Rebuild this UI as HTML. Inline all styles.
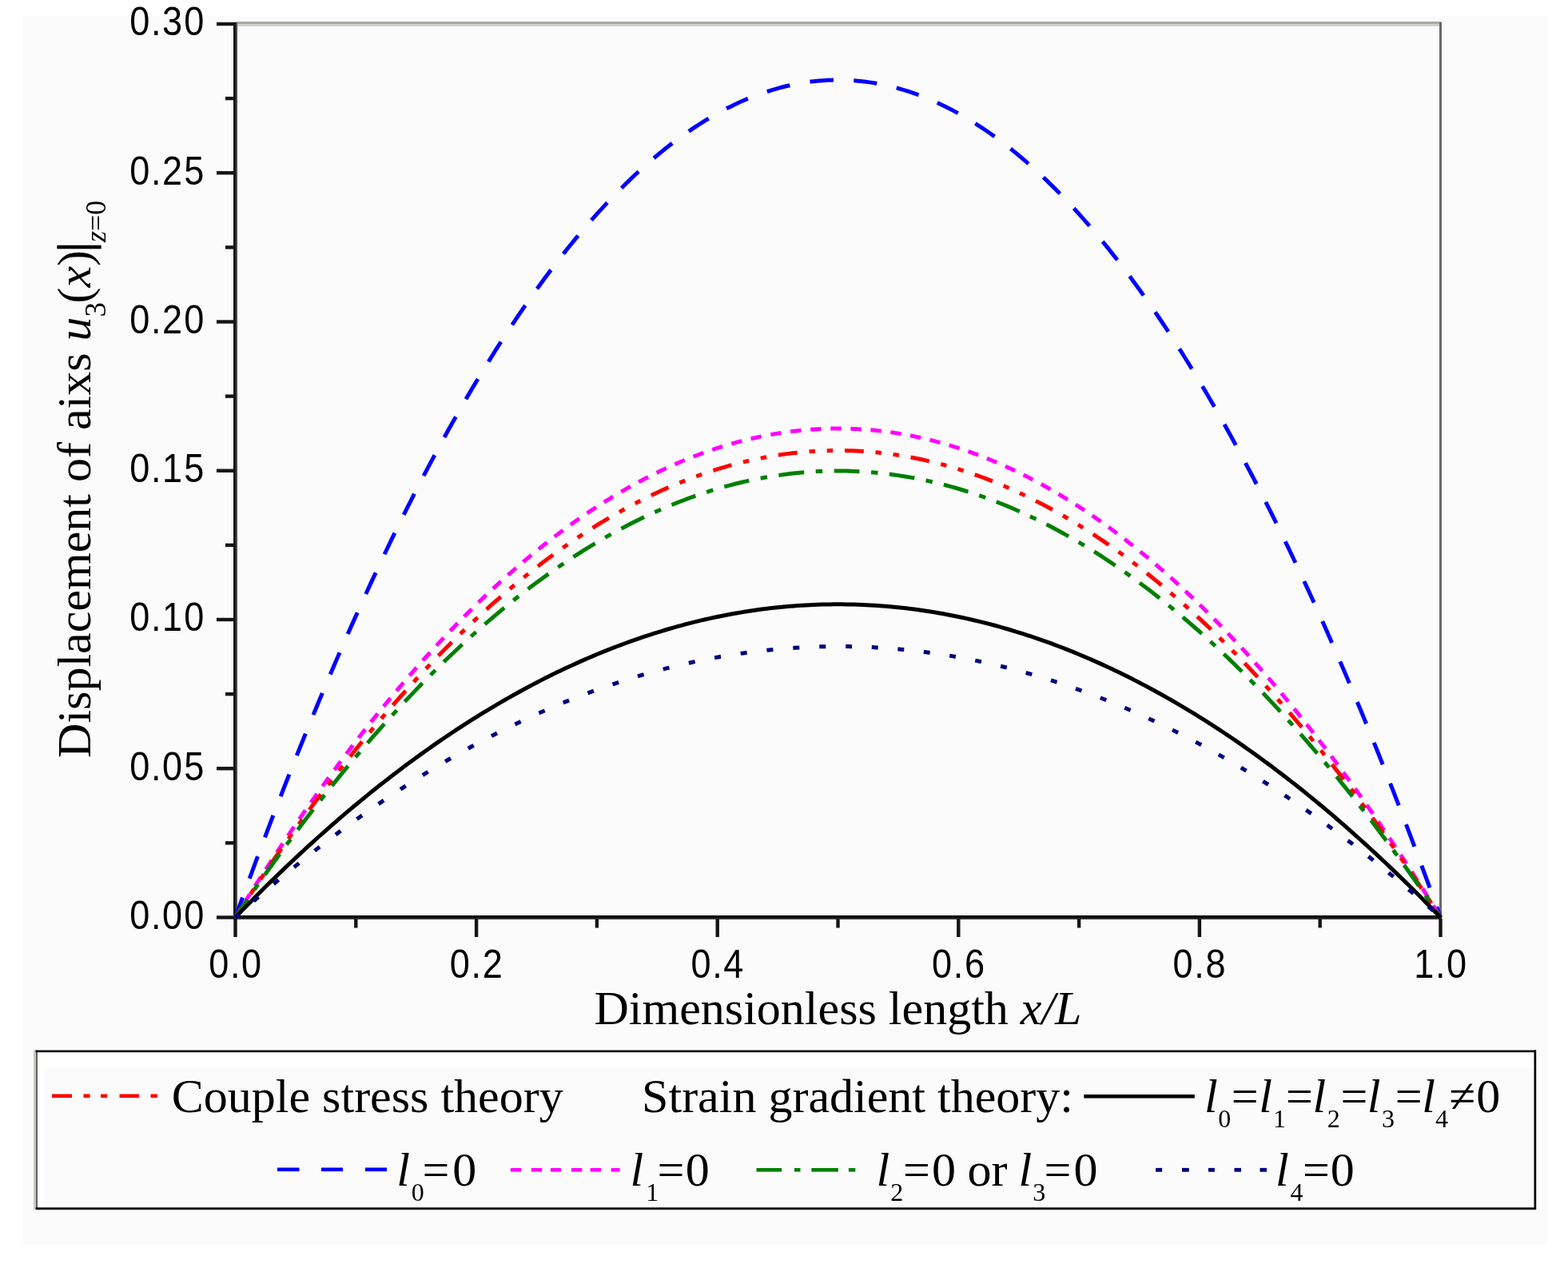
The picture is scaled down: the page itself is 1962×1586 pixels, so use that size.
<!DOCTYPE html>
<html><head><meta charset="utf-8"><title>Displacement of axis vs dimensionless length</title>
<style>
html,body{margin:0;padding:0;background:#fff;}
body{width:1962px;height:1586px;overflow:hidden;}
svg{display:block;}
</style></head>
<body>
<svg width="1962" height="1586" viewBox="0 0 1962 1586">
<rect x="0" y="0" width="1962" height="1586" fill="#ffffff"/>
<rect x="28" y="20" width="1908" height="1537" fill="#fbfbfb"/>
<rect x="47" y="1316" width="1873" height="20" fill="#ffffff"/>
<rect x="47" y="1316" width="7" height="194" fill="#ffffff"/>
<rect x="294" y="27" width="1510" height="3" fill="#a9a99c"/>
<rect x="294" y="30" width="1510" height="3" fill="#d0d2d2"/>
<rect x="1801" y="28" width="3" height="1120" fill="#686868"/>
<rect x="292" y="28" width="3" height="1122" fill="#141414"/>
<rect x="295" y="28" width="2" height="1122" fill="#4a4a4a"/>
<rect x="292" y="1145" width="1512" height="3" fill="#000"/>
<rect x="292" y="1148" width="1512" height="2" fill="#303030"/>
<rect x="271" y="1145.30" width="22" height="4.4" fill="#151515"/>
<rect x="282" y="1052.17" width="11" height="4.4" fill="#151515"/>
<rect x="271" y="959.05" width="22" height="4.4" fill="#151515"/>
<rect x="282" y="865.92" width="11" height="4.4" fill="#151515"/>
<rect x="271" y="772.80" width="22" height="4.4" fill="#151515"/>
<rect x="282" y="679.67" width="11" height="4.4" fill="#151515"/>
<rect x="271" y="586.55" width="22" height="4.4" fill="#151515"/>
<rect x="282" y="493.42" width="11" height="4.4" fill="#151515"/>
<rect x="271" y="400.30" width="22" height="4.4" fill="#151515"/>
<rect x="282" y="307.18" width="11" height="4.4" fill="#151515"/>
<rect x="271" y="214.05" width="22" height="4.4" fill="#151515"/>
<rect x="282" y="120.92" width="11" height="4.4" fill="#151515"/>
<rect x="271" y="27.80" width="22" height="4.4" fill="#151515"/>
<rect x="292.30" y="1149" width="4.4" height="23" fill="#151515"/>
<rect x="443.10" y="1149" width="4.4" height="11.5" fill="#151515"/>
<rect x="593.90" y="1149" width="4.4" height="23" fill="#151515"/>
<rect x="744.70" y="1149" width="4.4" height="11.5" fill="#151515"/>
<rect x="895.50" y="1149" width="4.4" height="23" fill="#151515"/>
<rect x="1046.30" y="1149" width="4.4" height="11.5" fill="#151515"/>
<rect x="1197.10" y="1149" width="4.4" height="23" fill="#151515"/>
<rect x="1347.90" y="1149" width="4.4" height="11.5" fill="#151515"/>
<rect x="1498.70" y="1149" width="4.4" height="23" fill="#151515"/>
<rect x="1649.50" y="1149" width="4.4" height="11.5" fill="#151515"/>
<rect x="1800.30" y="1149" width="4.4" height="23" fill="#151515"/>
<path d="M294.50,1147.50 L299.63,1133.30 L304.75,1119.20 L309.88,1105.20 L315.01,1091.29 L320.14,1077.48 L325.26,1063.77 L330.39,1050.15 L335.52,1036.64 L340.64,1023.21 L345.77,1009.89 L350.90,996.66 L356.03,983.53 L361.15,970.49 L366.28,957.55 L371.41,944.71 L376.54,931.97 L381.66,919.32 L386.79,906.77 L391.92,894.32 L397.04,881.96 L402.17,869.70 L407.30,857.54 L412.43,845.47 L417.55,833.50 L422.68,821.63 L427.81,809.86 L432.93,798.18 L438.06,786.60 L443.19,775.11 L448.32,763.72 L453.44,752.43 L458.57,741.24 L463.70,730.14 L468.82,719.14 L473.95,708.24 L479.08,697.43 L484.21,686.72 L489.33,676.11 L494.46,665.59 L499.59,655.17" fill="none" stroke="#0000ff" stroke-width="5.0" stroke-linejoin="round" stroke-dasharray="29.479 25.452" stroke-dashoffset="3.098"/>
<path d="M499.59,655.17 L504.63,645.02 L509.67,634.97 L514.71,625.01 L519.75,615.14 L524.79,605.37 L529.83,595.69 L534.87,586.10 L539.91,576.61 L544.95,567.21 L549.99,557.90 L555.03,548.69 L560.07,539.57 L565.11,530.55 L570.15,521.62 L575.19,512.78 L580.23,504.03 L585.27,495.38 L590.31,486.83 L595.35,478.36 L600.39,469.99 L605.43,461.72 L610.48,453.54 L615.52,445.45 L620.56,437.45 L625.60,429.55 L630.64,421.74 L635.68,414.03 L640.72,406.41 L645.76,398.88 L650.80,391.45 L655.84,384.11 L660.88,376.86 L665.92,369.71 L670.96,362.65 L676.00,355.68 L681.04,348.81 L686.08,342.03 L691.12,335.35 L696.16,328.76 L701.20,322.26 L706.24,315.86 L711.28,309.55 L716.32,303.33 L721.36,297.21 L726.40,291.18 L731.44,285.24" fill="none" stroke="#0000ff" stroke-width="5.0" stroke-linejoin="round" stroke-dasharray="29.385 25.371" stroke-dashoffset="42.200"/>
<path d="M731.44,285.24 L736.51,279.37 L741.57,273.60 L746.64,267.91 L751.71,262.33 L756.77,256.83 L761.84,251.43 L766.90,246.13 L771.97,240.92 L777.04,235.81 L782.10,230.79 L787.17,225.86 L792.23,221.03 L797.30,216.29 L802.37,211.65 L807.43,207.10 L812.50,202.65 L817.56,198.29 L822.63,194.03 L827.70,189.86 L832.76,185.78 L837.83,181.80 L842.89,177.92 L847.96,174.13 L853.03,170.43 L858.09,166.83 L863.16,163.32 L868.22,159.91 L873.29,156.59 L878.36,153.37 L883.42,150.24 L888.49,147.20 L893.55,144.26 L898.62,141.42 L903.68,138.67 L908.75,136.01 L913.82,133.45 L918.88,130.98 L923.95,128.61 L929.01,126.33 L934.08,124.15 L939.15,122.06 L944.21,120.07 L949.28,118.17 L954.34,116.36 L959.41,114.65 L964.48,113.04 L969.54,111.52 L974.61,110.09 L979.67,108.76 L984.74,107.52 L989.81,106.38 L994.87,105.33 L999.94,104.38 L1005.00,103.52 L1010.07,102.75 L1015.14,102.08 L1020.20,101.51 L1025.27,101.02 L1030.33,100.64 L1035.40,100.35 L1040.47,100.15 L1045.53,100.05 L1050.60,100.04 L1055.66,100.12" fill="none" stroke="#0000ff" stroke-width="5.0" stroke-linejoin="round" stroke-dasharray="29.582 25.541" stroke-dashoffset="42.089"/>
<path d="M1055.66,100.12 L1060.74,100.31 L1065.82,100.58 L1070.90,100.95 L1075.98,101.42 L1081.06,101.98 L1086.14,102.64 L1091.22,103.39 L1096.30,104.24 L1101.38,105.18 L1106.46,106.22 L1111.53,107.35 L1116.61,108.58 L1121.69,109.90 L1126.77,111.32 L1131.85,112.83 L1136.93,114.44 L1142.01,116.14 L1147.09,117.94 L1152.17,119.83 L1157.25,121.82 L1162.33,123.90 L1167.41,126.08 L1172.49,128.35 L1177.56,130.72 L1182.64,133.18 L1187.72,135.74 L1192.80,138.40 L1197.88,141.14 L1202.96,143.99 L1208.04,146.93 L1213.12,149.96 L1218.20,153.09 L1223.28,156.31 L1228.36,159.63 L1233.44,163.04 L1238.51,166.55 L1243.59,170.16 L1248.67,173.86 L1253.75,177.65 L1258.83,181.54 L1263.91,185.52 L1268.99,189.60 L1274.07,193.78 L1279.15,198.05 L1284.23,202.41 L1289.31,206.87 L1294.39,211.43 L1299.47,216.08 L1304.54,220.82 L1309.62,225.66 L1314.70,230.59 L1319.78,235.62 L1324.86,240.75 L1329.94,245.97 L1335.02,251.28" fill="none" stroke="#0000ff" stroke-width="5.0" stroke-linejoin="round" stroke-dasharray="29.149 25.167" stroke-dashoffset="41.650"/>
<path d="M1335.02,251.28 L1340.12,256.72 L1345.22,262.25 L1350.32,267.87 L1355.42,273.59 L1360.52,279.41 L1365.63,285.32 L1370.73,291.33 L1375.83,297.44 L1380.93,303.64 L1386.03,309.93 L1391.13,316.33 L1396.23,322.82 L1401.33,329.40 L1406.43,336.08 L1411.53,342.85 L1416.63,349.73 L1421.74,356.69 L1426.84,363.76 L1431.94,370.92 L1437.04,378.17 L1442.14,385.52 L1447.24,392.97 L1452.34,400.51 L1457.44,408.15 L1462.54,415.89 L1467.64,423.72 L1472.74,431.64 L1477.85,439.67 L1482.95,447.78 L1488.05,456.00 L1493.15,464.31 L1498.25,472.71 L1503.35,481.22 L1508.45,489.81 L1513.55,498.51 L1518.65,507.30 L1523.75,516.18 L1528.86,525.16 L1533.96,534.24 L1539.06,543.41 L1544.16,552.68 L1549.26,562.05 L1554.36,571.51 L1559.46,581.06 L1564.56,590.71 L1569.66,600.46 L1574.76,610.31 L1579.86,620.25 L1584.97,630.28 L1590.07,640.41 L1595.17,650.64 L1600.27,660.96 L1605.37,671.38 L1610.47,681.90 L1615.57,692.51 L1620.67,703.22 L1625.77,714.02 L1630.87,724.92 L1635.97,735.91 L1641.08,747.00 L1646.18,758.19 L1651.28,769.47 L1656.38,780.85 L1661.48,792.32 L1666.58,803.89 L1671.68,815.56" fill="none" stroke="#0000ff" stroke-width="5.0" stroke-linejoin="round" stroke-dasharray="29.531 25.497" stroke-dashoffset="42.338"/>
<path d="M1671.68,815.56 L1676.71,827.16 L1681.74,838.85 L1686.78,850.64 L1691.81,862.52 L1696.84,874.50 L1701.87,886.56 L1706.90,898.72 L1711.93,910.98 L1716.96,923.33 L1722.00,935.77 L1727.03,948.30 L1732.06,960.93 L1737.09,973.65 L1742.12,986.46 L1747.15,999.37 L1752.18,1012.37 L1757.22,1025.46 L1762.25,1038.65 L1767.28,1051.93 L1772.31,1065.30 L1777.34,1078.77 L1782.37,1092.33 L1787.41,1105.98 L1792.44,1119.73 L1797.47,1133.57 L1802.50,1147.50" fill="none" stroke="#0000ff" stroke-width="5.0" stroke-linejoin="round" stroke-dasharray="29.504 25.474" stroke-dashoffset="42.072"/>
<path d="M294.50,1147.50 L299.53,1139.37 L304.55,1131.30 L309.58,1123.28 L314.61,1115.32 L319.64,1107.41 L324.66,1099.55 L329.69,1091.75 L334.72,1084.00 L339.75,1076.31 L344.77,1068.67 L349.80,1061.09 L354.83,1053.56 L359.86,1046.08 L364.88,1038.66 L369.91,1031.30 L374.94,1023.99 L379.97,1016.73 L384.99,1009.53 L390.02,1002.38 L395.05,995.28 L400.08,988.24 L405.10,981.26 L410.13,974.33 L415.16,967.45 L420.19,960.63 L425.21,953.86 L430.24,947.14 L435.27,940.48 L440.30,933.88 L445.32,927.33 L450.35,920.83 L455.38,914.39 L460.41,908.00 L465.43,901.67 L470.46,895.39 L475.49,889.17 L480.52,883.00 L485.54,876.88 L490.57,870.82 L495.60,864.81 L500.63,858.86 L505.65,852.96 L510.68,847.12 L515.71,841.33 L520.74,835.59 L525.76,829.91 L530.79,824.29 L535.82,818.72 L540.85,813.20 L545.87,807.74 L550.90,802.33 L555.93,796.97 L560.96,791.67 L565.98,786.43 L571.01,781.24 L576.04,776.10 L581.07,771.02 L586.09,765.99 L591.12,761.01 L596.15,756.09 L601.18,751.23 L606.20,746.42 L611.23,741.66 L616.26,736.96 L621.29,732.31 L626.31,727.72 L631.34,723.18 L636.37,718.70 L641.40,714.27 L646.42,709.89 L651.45,705.57 L656.48,701.30 L661.51,697.09 L666.53,692.93 L671.56,688.83 L676.59,684.78 L681.62,680.78 L686.64,676.84 L691.67,672.96 L696.70,669.12 L701.73,665.35 L706.75,661.62 L711.78,657.95 L716.81,654.34 L721.84,650.78 L726.86,647.27 L731.89,643.82 L736.92,640.43 L741.95,637.08 L746.97,633.80 L752.00,630.56 L757.03,627.38 L762.06,624.26 L767.08,621.19 L772.11,618.17 L777.14,615.21 L782.17,612.30 L787.19,609.45 L792.22,606.65 L797.25,603.90 L802.28,601.21 L807.30,598.58 L812.33,596.00 L817.36,593.47 L822.39,591.00 L827.41,588.58 L832.44,586.21 L837.47,583.90 L842.50,581.65 L847.52,579.45 L852.55,577.30 L857.58,575.21 L862.61,573.17 L867.63,571.19 L872.66,569.26 L877.69,567.39 L882.72,565.57 L887.74,563.80 L892.77,562.09 L897.80,560.43 L902.83,558.83 L907.85,557.28 L912.88,555.79 L917.91,554.35 L922.94,552.96 L927.96,551.63 L932.99,550.35 L938.02,549.13 L943.05,547.97 L948.07,546.85 L953.10,545.79 L958.13,544.79 L963.16,543.84 L968.18,542.94 L973.21,542.10 L978.24,541.31 L983.27,540.58 L988.29,539.90 L993.32,539.28 L998.35,538.71 L1003.38,538.19 L1008.40,537.73 L1013.43,537.33 L1018.46,536.97 L1023.49,536.68 L1028.51,536.43 L1033.54,536.24 L1038.57,536.11 L1043.60,536.03 L1048.62,536.00 L1053.65,536.03 L1058.68,536.12" fill="none" stroke="#ff00ff" stroke-width="5.0" stroke-linejoin="round" stroke-dasharray="13.499 11.659" stroke-dashoffset="4.200"/>
<path d="M1058.68,536.12 L1063.85,536.26 L1069.03,536.46 L1074.20,536.71 L1079.38,537.03 L1084.55,537.40 L1089.73,537.83 L1094.91,538.32 L1100.08,538.87 L1105.26,539.47 L1110.43,540.13 L1115.61,540.85 L1120.78,541.62 L1125.96,542.46 L1131.13,543.35 L1136.31,544.30 L1141.48,545.30 L1146.66,546.37 L1151.83,547.49 L1157.01,548.67 L1162.18,549.90 L1167.36,551.20 L1172.53,552.55 L1177.71,553.96 L1182.88,555.43 L1188.06,556.95 L1193.23,558.54 L1198.41,560.18 L1203.58,561.87 L1208.76,563.63 L1213.93,565.44 L1219.11,567.31 L1224.28,569.24 L1229.46,571.23" fill="none" stroke="#ff00ff" stroke-width="5.0" stroke-linejoin="round" stroke-dasharray="13.442 11.610" stroke-dashoffset="19.309"/>
<path d="M1229.46,571.23 L1234.49,573.21 L1239.52,575.25 L1244.55,577.35 L1249.58,579.49 L1254.61,581.70 L1259.64,583.96 L1264.67,586.27 L1269.70,588.63 L1274.73,591.06 L1279.76,593.53 L1284.79,596.06 L1289.83,598.64 L1294.86,601.28 L1299.89,603.98 L1304.92,606.72 L1309.95,609.53 L1314.98,612.38 L1320.01,615.29 L1325.04,618.26 L1330.07,621.28 L1335.10,624.35 L1340.13,627.48 L1345.16,630.66 L1350.19,633.90 L1355.22,637.19 L1360.25,640.54 L1365.28,643.94 L1370.31,647.40 L1375.34,650.91 L1380.37,654.47 L1385.40,658.09 L1390.43,661.76 L1395.46,665.49 L1400.49,669.27 L1405.52,673.11 L1410.56,677.00 L1415.59,680.94 L1420.62,684.94 L1425.65,689.00 L1430.68,693.11 L1435.71,697.27 L1440.74,701.49 L1445.77,705.76 L1450.80,710.08 L1455.83,714.46 L1460.86,718.90 L1465.89,723.39 L1470.92,727.93 L1475.95,732.53 L1480.98,737.18 L1486.01,741.89 L1491.04,746.65 L1496.07,751.47 L1501.10,756.34 L1506.13,761.26 L1511.16,766.24 L1516.19,771.28 L1521.22,776.37 L1526.25,781.51 L1531.29,786.71 L1536.32,791.96 L1541.35,797.26 L1546.38,802.62 L1551.41,808.04 L1556.44,813.51 L1561.47,819.03 L1566.50,824.61" fill="none" stroke="#ff00ff" stroke-width="5.0" stroke-linejoin="round" stroke-dasharray="13.429 11.599" stroke-dashoffset="19.178"/>
<path d="M1566.50,824.61 L1571.63,830.36 L1576.76,836.16 L1581.89,842.02 L1587.02,847.93 L1592.15,853.90 L1597.28,859.93 L1602.41,866.02 L1607.54,872.16 L1612.67,878.36 L1617.80,884.61 L1622.93,890.92 L1628.06,897.29 L1633.19,903.72 L1638.32,910.20 L1643.46,916.74 L1648.59,923.33 L1653.72,929.98 L1658.85,936.69 L1663.98,943.45 L1669.11,950.28 L1674.24,957.15 L1679.37,964.09 L1684.50,971.08 L1689.63,978.13 L1694.76,985.23 L1699.89,992.39 L1705.02,999.61 L1710.15,1006.88 L1715.28,1014.21 L1720.41,1021.60 L1725.54,1029.05 L1730.67,1036.55 L1735.80,1044.10 L1740.93,1051.72 L1746.06,1059.39 L1751.20,1067.11 L1756.33,1074.90 L1761.46,1082.74 L1766.59,1090.64 L1771.72,1098.59 L1776.85,1106.60 L1781.98,1114.67 L1787.11,1122.79 L1792.24,1130.97 L1797.37,1139.21 L1802.50,1147.50" fill="none" stroke="#ff00ff" stroke-width="5.0" stroke-linejoin="round" stroke-dasharray="13.485 11.647" stroke-dashoffset="19.244"/>
<path d="M294.50,1147.50 L299.54,1139.72 L304.58,1131.99 L309.62,1124.31 L314.66,1116.69 L319.70,1109.12 L324.74,1101.59 L329.78,1094.13 L334.82,1086.71 L339.86,1079.35 L344.90,1072.03 L349.94,1064.78 L354.98,1057.57 L360.02,1050.41 L365.06,1043.31 L370.10,1036.26 L375.14,1029.26 L380.18,1022.31 L385.22,1015.42 L390.26,1008.58 L395.30,1001.79 L400.34,995.05 L405.38,988.37 L410.42,981.73 L415.46,975.15 L420.50,968.62 L425.54,962.15 L430.58,955.72 L435.62,949.35 L440.66,943.03 L445.70,936.76 L450.74,930.55 L455.78,924.38 L460.82,918.27 L465.86,912.21 L470.90,906.20 L475.94,900.25 L480.98,894.35 L486.02,888.50 L491.06,882.70 L496.10,876.95 L501.14,871.26 L506.18,865.62 L511.22,860.03 L516.26,854.49 L521.30,849.01 L526.34,843.57 L531.38,838.19 L536.42,832.86 L541.46,827.59 L546.50,822.36 L551.54,817.19 L556.58,812.07 L561.62,807.00 L566.66,801.99 L571.70,797.02 L576.74,792.11 L581.78,787.25 L586.82,782.45 L591.86,777.69 L596.90,772.99 L601.94,768.34 L606.98,763.74 L612.02,759.20 L617.06,754.70 L622.10,750.26 L627.14,745.87 L632.18,741.54 L637.22,737.25 L642.26,733.02 L647.30,728.84 L652.34,724.71 L657.38,720.64 L662.42,716.61 L667.46,712.64 L672.50,708.72 L677.54,704.85 L682.58,701.04 L687.62,697.28 L692.66,693.56 L697.70,689.91 L702.74,686.30 L707.78,682.75 L712.82,679.24 L717.86,675.79 L722.90,672.40 L727.94,669.05 L732.98,665.76 L738.02,662.52 L743.06,659.33 L748.10,656.19 L753.14,653.11 L758.18,650.07 L763.22,647.09 L768.26,644.17 L773.30,641.29 L778.34,638.47 L783.38,635.70 L788.42,632.98 L793.46,630.31 L798.50,627.70 L803.54,625.13 L808.58,622.62 L813.62,620.16 L818.66,617.76 L823.70,615.40 L828.74,613.10 L833.78,610.85 L838.82,608.66 L843.86,606.51 L848.90,604.42 L853.94,602.38 L858.98,600.39 L864.02,598.45 L869.06,596.57 L874.10,594.74 L879.14,592.96 L884.18,591.23 L889.22,589.55 L894.26,587.93 L899.30,586.36 L904.34,584.84 L909.38,583.37 L914.42,581.96 L919.46,580.60 L924.50,579.29 L929.54,578.03 L934.58,576.82 L939.62,575.67 L944.66,574.57 L949.70,573.52 L954.74,572.52 L959.78,571.58 L964.82,570.69 L969.86,569.85 L974.90,569.06 L979.94,568.32 L984.98,567.64 L990.02,567.01 L995.06,566.43 L1000.10,565.90 L1005.14,565.43" fill="none" stroke="#ff0000" stroke-width="5.0" stroke-linejoin="round" stroke-dasharray="24.000 14.930 7.500 14.930 7.500 14.930" stroke-dashoffset="4.150"/>
<path d="M1005.14,565.43 L1010.22,565.00 L1015.30,564.63 L1020.37,564.31 L1025.45,564.04 L1030.53,563.83 L1035.60,563.67 L1040.68,563.56 L1045.75,563.50 L1050.83,563.50 L1055.91,563.55 L1060.98,563.65 L1066.06,563.81 L1071.13,564.02 L1076.21,564.28 L1081.29,564.60 L1086.36,564.97 L1091.44,565.39 L1096.51,565.86 L1101.59,566.39 L1106.67,566.97 L1111.74,567.60 L1116.82,568.29 L1121.89,569.03 L1126.97,569.82 L1132.05,570.66 L1137.12,571.56 L1142.20,572.51 L1147.27,573.52 L1152.35,574.57 L1157.43,575.68 L1162.50,576.85 L1167.58,578.06 L1172.65,579.33 L1177.73,580.65 L1182.81,582.02 L1187.88,583.45 L1192.96,584.93 L1198.03,586.46 L1203.11,588.05 L1208.19,589.69 L1213.26,591.38 L1218.34,593.13 L1223.41,594.92 L1228.49,596.77 L1233.57,598.68 L1238.64,600.63 L1243.72,602.64 L1248.79,604.71 L1253.87,606.82 L1258.95,608.99 L1264.02,611.21 L1269.10,613.48 L1274.17,615.81 L1279.25,618.19 L1284.33,620.62 L1289.40,623.11" fill="none" stroke="#ff0000" stroke-width="5.0" stroke-linejoin="round" stroke-dasharray="23.801 14.806 7.438 14.806 7.438 14.806" stroke-dashoffset="31.227"/>
<path d="M1289.40,623.11 L1294.46,625.64 L1299.51,628.22 L1304.56,630.85 L1309.62,633.53 L1314.67,636.27 L1319.72,639.06 L1324.78,641.90 L1329.83,644.80 L1334.88,647.74 L1339.94,650.74 L1344.99,653.80 L1350.04,656.90 L1355.10,660.06 L1360.15,663.27 L1365.20,666.53 L1370.26,669.84 L1375.31,673.21 L1380.36,676.63 L1385.41,680.10 L1390.47,683.62 L1395.52,687.20 L1400.57,690.83 L1405.63,694.51 L1410.68,698.24 L1415.73,702.03 L1420.79,705.87 L1425.84,709.76 L1430.89,713.70 L1435.95,717.70 L1441.00,721.75 L1446.05,725.85 L1451.11,730.00 L1456.16,734.21 L1461.21,738.47 L1466.27,742.78 L1471.32,747.14 L1476.37,751.56 L1481.43,756.03 L1486.48,760.55 L1491.53,765.12 L1496.59,769.75 L1501.64,774.42 L1506.69,779.16 L1511.75,783.94 L1516.80,788.77 L1521.85,793.66 L1526.91,798.60 L1531.96,803.60 L1537.01,808.64 L1542.07,813.74 L1547.12,818.89 L1552.17,824.09" fill="none" stroke="#ff0000" stroke-width="5.0" stroke-linejoin="round" stroke-dasharray="23.803 14.808 7.438 14.808 7.438 14.808" stroke-dashoffset="75.766"/>
<path d="M1552.17,824.09 L1557.28,829.41 L1562.39,834.77 L1567.50,840.19 L1572.61,845.67 L1577.72,851.19 L1582.82,856.78 L1587.93,862.41 L1593.04,868.10 L1598.15,873.84 L1603.26,879.64 L1608.37,885.49 L1613.48,891.39 L1618.59,897.35 L1623.69,903.36 L1628.80,909.42 L1633.91,915.54 L1639.02,921.71 L1644.13,927.93 L1649.24,934.21 L1654.35,940.55 L1659.46,946.93 L1664.56,953.37 L1669.67,959.86 L1674.78,966.41 L1679.89,973.01 L1685.00,979.66 L1690.11,986.37 L1695.22,993.13 L1700.33,999.95 L1705.43,1006.81 L1710.54,1013.74 L1715.65,1020.71 L1720.76,1027.74 L1725.87,1034.82 L1730.98,1041.96 L1736.09,1049.15 L1741.20,1056.39 L1746.30,1063.69 L1751.41,1071.04 L1756.52,1078.45 L1761.63,1085.90 L1766.74,1093.42 L1771.85,1100.98 L1776.96,1108.60 L1782.07,1116.27 L1787.17,1124.00 L1792.28,1131.78 L1797.39,1139.61 L1802.50,1147.50" fill="none" stroke="#ff0000" stroke-width="5.0" stroke-linejoin="round" stroke-dasharray="23.983 14.919 7.495 14.919 7.495 14.919" stroke-dashoffset="76.355"/>
<path d="M294.50,1147.50 L299.53,1140.08 L304.56,1132.70 L309.58,1125.38 L314.61,1118.11 L319.64,1110.88 L324.67,1103.71 L329.69,1096.58 L334.72,1089.51 L339.75,1082.48 L344.78,1075.50 L349.80,1068.58 L354.83,1061.70 L359.86,1054.87 L364.89,1048.10 L369.91,1041.37 L374.94,1034.69 L379.97,1028.06 L385.00,1021.48 L390.02,1014.96 L395.05,1008.48 L400.08,1002.05 L405.11,995.67 L410.13,989.34 L415.16,983.05 L420.19,976.82 L425.22,970.64 L430.24,964.51 L435.27,958.43 L440.30,952.40 L445.33,946.41 L450.35,940.48 L455.38,934.60 L460.41,928.76 L465.44,922.98 L470.46,917.24 L475.49,911.56 L480.52,905.92 L485.55,900.34 L490.57,894.80 L495.60,889.32 L500.63,883.88 L505.66,878.49 L510.68,873.15 L515.71,867.87 L520.74,862.63 L525.77,857.44 L530.79,852.30 L535.82,847.21 L540.85,842.17 L545.88,837.18 L550.90,832.24 L555.93,827.35 L560.96,822.51 L565.99,817.72 L571.01,812.98 L576.04,808.29 L581.07,803.65 L586.10,799.06 L591.13,794.51 L596.15,790.02 L601.18,785.58 L606.21,781.18 L611.24,776.84 L616.26,772.54 L621.29,768.30 L626.32,764.10 L631.35,759.96 L636.37,755.86 L641.40,751.82 L646.43,747.82 L651.46,743.87 L656.48,739.98 L661.51,736.13 L666.54,732.33 L671.57,728.58 L676.59,724.89 L681.62,721.24 L686.65,717.64 L691.68,714.09 L696.70,710.59 L701.73,707.14 L706.76,703.74 L711.79,700.39 L716.81,697.09 L721.84,693.83 L726.87,690.63 L731.90,687.48 L736.92,684.38 L741.95,681.33 L746.98,678.32 L752.01,675.37 L757.03,672.46 L762.06,669.61 L767.09,666.81 L772.12,664.05 L777.14,661.35 L782.17,658.69 L787.20,656.08 L792.23,653.53 L797.25,651.02 L802.28,648.56 L807.31,646.16 L812.34,643.80 L817.36,641.49 L822.39,639.23 L827.42,637.03 L832.45,634.87 L837.47,632.76 L842.50,630.70 L847.53,628.69 L852.56,626.73 L857.59,624.82 L862.61,622.96 L867.64,621.14 L872.67,619.38 L877.70,617.67 L882.72,616.01 L887.75,614.40 L892.78,612.83 L897.81,611.32 L902.83,609.86 L907.86,608.44 L912.89,607.08 L917.92,605.76 L922.94,604.50 L927.97,603.28 L933.00,602.12 L938.03,601.00 L943.05,599.93 L948.08,598.92 L953.11,597.95 L958.14,597.03 L963.16,596.16 L968.19,595.35 L973.22,594.58 L978.25,593.86 L983.27,593.19 L988.30,592.57 L993.33,592.00 L998.36,591.48 L1003.38,591.01 L1008.41,590.59 L1013.44,590.22" fill="none" stroke="#008000" stroke-width="5.0" stroke-linejoin="round" stroke-dasharray="32.000 14.590 8.500 14.590" stroke-dashoffset="4.950"/>
<path d="M1013.44,590.22 L1018.47,589.90 L1023.51,589.62 L1028.54,589.40 L1033.58,589.23 L1038.61,589.11 L1043.65,589.03 L1048.68,589.01 L1053.72,589.04 L1058.75,589.11 L1063.79,589.24 L1068.82,589.42 L1073.86,589.64 L1078.89,589.92 L1083.93,590.24 L1088.96,590.62 L1094.00,591.04 L1099.03,591.52 L1104.07,592.04 L1109.10,592.62 L1114.14,593.24 L1119.17,593.92 L1124.21,594.64 L1129.25,595.42 L1134.28,596.24 L1139.32,597.11 L1144.35,598.04 L1149.39,599.01 L1154.42,600.03 L1159.46,601.10 L1164.49,602.23 L1169.53,603.40 L1174.56,604.62 L1179.60,605.89 L1184.63,607.22 L1189.67,608.59 L1194.70,610.01 L1199.74,611.48 L1204.77,613.00 L1209.81,614.57 L1214.84,616.19 L1219.88,617.86 L1224.91,619.58 L1229.95,621.35 L1234.98,623.17 L1240.02,625.04" fill="none" stroke="#008000" stroke-width="5.0" stroke-linejoin="round" stroke-dasharray="31.843 14.518 8.458 14.518" stroke-dashoffset="39.070"/>
<path d="M1240.02,625.04 L1245.14,626.99 L1250.26,629.00 L1255.38,631.05 L1260.50,633.16 L1265.62,635.32 L1270.74,637.53 L1275.86,639.79 L1280.98,642.11 L1286.10,644.47 L1291.23,646.89 L1296.35,649.36 L1301.47,651.87 L1306.59,654.45 L1311.71,657.07 L1316.83,659.74 L1321.95,662.47 L1327.07,665.24 L1332.19,668.07 L1337.31,670.95 L1342.43,673.88 L1347.56,676.87 L1352.68,679.90 L1357.80,682.99 L1362.92,686.13" fill="none" stroke="#008000" stroke-width="5.0" stroke-linejoin="round" stroke-dasharray="31.567 14.393 8.385 14.393" stroke-dashoffset="61.552"/>
<path d="M1362.92,686.13 L1367.97,689.27 L1373.03,692.47 L1378.08,695.72 L1383.13,699.01 L1388.19,702.36 L1393.24,705.76 L1398.29,709.21 L1403.35,712.71 L1408.40,716.25 L1413.45,719.85 L1418.51,723.50 L1423.56,727.20 L1428.61,730.95 L1433.67,734.75 L1438.72,738.60 L1443.78,742.50 L1448.83,746.45 L1453.88,750.45 L1458.94,754.50 L1463.99,758.60 L1469.04,762.75 L1474.10,766.95 L1479.15,771.20 L1484.20,775.50 L1489.26,779.85 L1494.31,784.25 L1499.37,788.70 L1504.42,793.21 L1509.47,797.76 L1514.53,802.36 L1519.58,807.01 L1524.63,811.72 L1529.69,816.47 L1534.74,821.27 L1539.79,826.12 L1544.85,831.03 L1549.90,835.98 L1554.95,840.98 L1560.01,846.04 L1565.06,851.14 L1570.12,856.29 L1575.17,861.50" fill="none" stroke="#008000" stroke-width="5.0" stroke-linejoin="round" stroke-dasharray="31.692 14.449 8.418 14.449" stroke-dashoffset="61.780"/>
<path d="M1575.17,861.50 L1580.22,866.75 L1585.27,872.05 L1590.32,877.41 L1595.38,882.81 L1600.43,888.26 L1605.48,893.77 L1610.53,899.32 L1615.58,904.92 L1620.64,910.58 L1625.69,916.28 L1630.74,922.03 L1635.79,927.84 L1640.84,933.69 L1645.89,939.60 L1650.95,945.55 L1656.00,951.56 L1661.05,957.61 L1666.10,963.72 L1671.15,969.87 L1676.20,976.08 L1681.26,982.33 L1686.31,988.64 L1691.36,994.99 L1696.41,1001.40 L1701.46,1007.85 L1706.52,1014.36 L1711.57,1020.92 L1716.62,1027.52 L1721.67,1034.18 L1726.72,1040.88 L1731.77,1047.64 L1736.83,1054.45 L1741.88,1061.31 L1746.93,1068.21 L1751.98,1075.17 L1757.03,1082.18 L1762.09,1089.23 L1767.14,1096.34 L1772.19,1103.50 L1777.24,1110.71 L1782.29,1117.97 L1787.34,1125.27 L1792.40,1132.63 L1797.45,1140.04 L1802.50,1147.50" fill="none" stroke="#008000" stroke-width="5.0" stroke-linejoin="round" stroke-dasharray="31.992 14.586 8.498 14.586" stroke-dashoffset="62.367"/>
<path d="M294.50,1147.50 L299.53,1142.29 L304.55,1137.12 L309.58,1131.99 L314.61,1126.89 L319.63,1121.82 L324.66,1116.79 L329.69,1111.80 L334.71,1106.83 L339.74,1101.91 L344.77,1097.02 L349.79,1092.16 L354.82,1087.34 L359.85,1082.55 L364.87,1077.80 L369.90,1073.08 L374.93,1068.40 L379.95,1063.75 L384.98,1059.14 L390.01,1054.56 L395.03,1050.01 L400.06,1045.51 L405.09,1041.03 L410.11,1036.59 L415.14,1032.19 L420.17,1027.82 L425.19,1023.48 L430.22,1019.18 L435.25,1014.92 L440.27,1010.69 L445.30,1006.49 L450.33,1002.33 L455.35,998.21 L460.38,994.12 L465.41,990.06 L470.43,986.04 L475.46,982.05 L480.49,978.10 L485.51,974.18 L490.54,970.30 L495.57,966.46 L500.59,962.64 L505.62,958.87 L510.65,955.12 L515.67,951.41 L520.70,947.74 L525.73,944.10 L530.75,940.50 L535.78,936.93 L540.81,933.40 L545.83,929.90 L550.86,926.43 L555.89,923.00 L560.91,919.61 L565.94,916.25 L570.97,912.92 L575.99,909.63 L581.02,906.38 L586.05,903.16 L591.07,899.97 L596.10,896.82 L601.13,893.71 L606.15,890.63 L611.18,887.58 L616.21,884.57 L621.23,881.59 L626.26,878.65 L631.29,875.74 L636.31,872.87 L641.34,870.03 L646.37,867.23 L651.39,864.46 L656.42,861.73 L661.45,859.03 L666.47,856.37 L671.50,853.74 L676.53,851.14 L681.55,848.58 L686.58,846.06 L691.61,843.57 L696.63,841.12 L701.66,838.70 L706.69,836.31 L711.71,833.96 L716.74,831.65 L721.77,829.37 L726.79,827.12 L731.82,824.91 L736.85,822.73 L741.87,820.59 L746.90,818.49 L751.93,816.41 L756.95,814.38 L761.98,812.38 L767.01,810.41 L772.03,808.48 L777.06,806.58 L782.09,804.72 L787.11,802.89 L792.14,801.09 L797.17,799.34 L802.19,797.61 L807.22,795.92 L812.25,794.27 L817.27,792.65 L822.30,791.07 L827.33,789.52 L832.35,788.00 L837.38,786.52 L842.41,785.08 L847.43,783.67 L852.46,782.29 L857.49,780.95 L862.51,779.65 L867.54,778.38 L872.57,777.14 L877.59,775.94 L882.62,774.77 L887.65,773.64 L892.67,772.55 L897.70,771.48 L902.73,770.46 L907.75,769.46 L912.78,768.51 L917.81,767.58 L922.83,766.70 L927.86,765.84 L932.89,765.03 L937.91,764.24 L942.94,763.49 L947.97,762.78 L952.99,762.10 L958.02,761.46 L963.05,760.85 L968.07,760.27 L973.10,759.73 L978.13,759.23 L983.15,758.76 L988.18,758.32 L993.21,757.92 L998.23,757.56 L1003.26,757.23 L1008.29,756.93 L1013.31,756.67 L1018.34,756.44 L1023.37,756.25 L1028.39,756.09 L1033.42,755.97 L1038.45,755.89 L1043.47,755.83 L1048.50,755.82 L1053.53,755.83 L1058.55,755.89 L1063.58,755.97 L1068.61,756.09 L1073.63,756.25 L1078.66,756.44 L1083.69,756.67 L1088.71,756.93 L1093.74,757.23 L1098.77,757.56 L1103.79,757.92 L1108.82,758.32 L1113.85,758.76 L1118.87,759.23 L1123.90,759.73 L1128.93,760.27 L1133.95,760.85 L1138.98,761.46 L1144.01,762.10 L1149.03,762.78 L1154.06,763.49 L1159.09,764.24 L1164.11,765.03 L1169.14,765.84 L1174.17,766.70 L1179.19,767.58 L1184.22,768.51 L1189.25,769.46 L1194.27,770.46 L1199.30,771.48 L1204.33,772.55 L1209.35,773.64 L1214.38,774.77 L1219.41,775.94 L1224.43,777.14 L1229.46,778.38 L1234.49,779.65 L1239.51,780.95 L1244.54,782.29 L1249.57,783.67 L1254.59,785.08 L1259.62,786.52 L1264.65,788.00 L1269.67,789.52 L1274.70,791.07 L1279.73,792.65 L1284.75,794.27 L1289.78,795.92 L1294.81,797.61 L1299.83,799.34 L1304.86,801.09 L1309.89,802.89 L1314.91,804.72 L1319.94,806.58 L1324.97,808.48 L1329.99,810.41 L1335.02,812.38 L1340.05,814.38 L1345.07,816.41 L1350.10,818.49 L1355.13,820.59 L1360.15,822.73 L1365.18,824.91 L1370.21,827.12 L1375.23,829.37 L1380.26,831.65 L1385.29,833.96 L1390.31,836.31 L1395.34,838.70 L1400.37,841.12 L1405.39,843.57 L1410.42,846.06 L1415.45,848.58 L1420.47,851.14 L1425.50,853.74 L1430.53,856.37 L1435.55,859.03 L1440.58,861.73 L1445.61,864.46 L1450.63,867.23 L1455.66,870.03 L1460.69,872.87 L1465.71,875.74 L1470.74,878.65 L1475.77,881.59 L1480.79,884.57 L1485.82,887.58 L1490.85,890.63 L1495.87,893.71 L1500.90,896.82 L1505.93,899.97 L1510.95,903.16 L1515.98,906.38 L1521.01,909.63 L1526.03,912.92 L1531.06,916.25 L1536.09,919.61 L1541.11,923.00 L1546.14,926.43 L1551.17,929.90 L1556.19,933.40 L1561.22,936.93 L1566.25,940.50 L1571.27,944.10 L1576.30,947.74 L1581.33,951.41 L1586.35,955.12 L1591.38,958.87 L1596.41,962.64 L1601.43,966.46 L1606.46,970.30 L1611.49,974.18 L1616.51,978.10 L1621.54,982.05 L1626.57,986.04 L1631.59,990.06 L1636.62,994.12 L1641.65,998.21 L1646.67,1002.33 L1651.70,1006.49 L1656.73,1010.69 L1661.75,1014.92 L1666.78,1019.18 L1671.81,1023.48 L1676.83,1027.82 L1681.86,1032.19 L1686.89,1036.59 L1691.91,1041.03 L1696.94,1045.51 L1701.97,1050.01 L1706.99,1054.56 L1712.02,1059.14 L1717.05,1063.75 L1722.07,1068.40 L1727.10,1073.08 L1732.13,1077.80 L1737.15,1082.55 L1742.18,1087.34 L1747.21,1092.16 L1752.23,1097.02 L1757.26,1101.91 L1762.29,1106.83 L1767.31,1111.80 L1772.34,1116.79 L1777.37,1121.82 L1782.39,1126.89 L1787.42,1131.99 L1792.45,1137.12 L1797.47,1142.29 L1802.50,1147.50" fill="none" stroke="#000000" stroke-width="5.0" stroke-linejoin="round"/>
<path d="M294.50,1147.50 L299.54,1142.98 L304.59,1138.49 L309.63,1134.03 L314.67,1129.61 L319.71,1125.21 L324.76,1120.84 L329.80,1116.50 L334.84,1112.20 L339.88,1107.92 L344.93,1103.68 L349.97,1099.46 L355.01,1095.27 L360.05,1091.12 L365.10,1086.99 L370.14,1082.90 L375.18,1078.84 L380.23,1074.80 L385.27,1070.80 L390.31,1066.83 L395.35,1062.88 L400.40,1058.97 L405.44,1055.09 L410.48,1051.24 L415.52,1047.42 L420.57,1043.62 L425.61,1039.86 L430.65,1036.13 L435.70,1032.43 L440.74,1028.76 L445.78,1025.12 L450.82,1021.51 L455.87,1017.94 L460.91,1014.39 L465.95,1010.87 L470.99,1007.38 L476.04,1003.92 L481.08,1000.50 L486.12,997.10 L491.16,993.73 L496.21,990.40 L501.25,987.09 L506.29,983.81 L511.34,980.57 L516.38,977.35 L521.42,974.17 L526.46,971.01 L531.51,967.89 L536.55,964.80 L541.59,961.73 L546.63,958.70 L551.68,955.70 L556.72,952.73 L561.76,949.78 L566.81,946.87 L571.85,943.99 L576.89,941.14 L581.93,938.32 L586.98,935.53 L592.02,932.77 L597.06,930.04 L602.10,927.34 L607.15,924.67 L612.19,922.03 L617.23,919.42 L622.27,916.84 L627.32,914.30 L632.36,911.78 L637.40,909.29 L642.45,906.83 L647.49,904.41 L652.53,902.01 L657.57,899.65 L662.62,897.31 L667.66,895.00 L672.70,892.73 L677.74,890.48 L682.79,888.27 L687.83,886.09 L692.87,883.93 L697.92,881.81 L702.96,879.72 L708.00,877.65 L713.04,875.62 L718.09,873.62 L723.13,871.65 L728.17,869.71 L733.21,867.79 L738.26,865.91 L743.30,864.06 L748.34,862.24 L753.38,860.45 L758.43,858.69 L763.47,856.97 L768.51,855.27 L773.56,853.60 L778.60,851.96 L783.64,850.35 L788.68,848.77 L793.73,847.23 L798.77,845.71 L803.81,844.22 L808.85,842.77 L813.90,841.34 L818.94,839.95 L823.98,838.58 L829.03,837.25 L834.07,835.94 L839.11,834.67 L844.15,833.42 L849.20,832.21 L854.24,831.03 L859.28,829.87 L864.32,828.75 L869.37,827.66 L874.41,826.60 L879.45,825.56 L884.49,824.56 L889.54,823.59 L894.58,822.65 L899.62,821.74 L904.67,820.86 L909.71,820.01 L914.75,819.19 L919.79,818.40 L924.84,817.64 L929.88,816.91 L934.92,816.22 L939.96,815.55 L945.01,814.91 L950.05,814.30 L955.09,813.73 L960.14,813.18 L965.18,812.66 L970.22,812.18 L975.26,811.72 L980.31,811.30 L985.35,810.90 L990.39,810.54 L995.43,810.20 L1000.48,809.90 L1005.52,809.63 L1010.56,809.38 L1015.60,809.17 L1020.65,808.99 L1025.69,808.84 L1030.73,808.71 L1035.78,808.62 L1040.82,808.56 L1045.86,808.53" fill="none" stroke="#000080" stroke-width="5.0" stroke-linejoin="round" stroke-dasharray="8.000 25.000" stroke-dashoffset="2.360"/>
<path d="M1045.86,808.53 L1050.92,808.53 L1055.98,808.56 L1061.04,808.62 L1066.10,808.71 L1071.16,808.83 L1076.22,808.98 L1081.28,809.17 L1086.34,809.38 L1091.40,809.62 L1096.46,809.90 L1101.52,810.20 L1106.58,810.54 L1111.64,810.90 L1116.70,811.30 L1121.76,811.72 L1126.82,812.18 L1131.88,812.67 L1136.94,813.19 L1142.00,813.74 L1147.06,814.32 L1152.12,814.93 L1157.18,815.57 L1162.23,816.24 L1167.29,816.94 L1172.35,817.67 L1177.41,818.43 L1182.47,819.23 L1187.53,820.05 L1192.59,820.90 L1197.65,821.79 L1202.71,822.70 L1207.77,823.65 L1212.83,824.63 L1217.89,825.63 L1222.95,826.67 L1228.01,827.74 L1233.07,828.84 L1238.13,829.97 L1243.19,831.13 L1248.25,832.32 L1253.31,833.54 L1258.37,834.79 L1263.43,836.07 L1268.49,837.38 L1273.55,838.72 L1278.61,840.10 L1283.67,841.50 L1288.73,842.93 L1293.79,844.40 L1298.85,845.89 L1303.91,847.42 L1308.97,848.98 L1314.03,850.56 L1319.09,852.18 L1324.15,853.83 L1329.21,855.51 L1334.27,857.22" fill="none" stroke="#000080" stroke-width="5.0" stroke-linejoin="round" stroke-dasharray="7.916 24.737" stroke-dashoffset="20.370"/>
<path d="M1334.27,857.22 L1339.40,858.98 L1344.54,860.78 L1349.68,862.61 L1354.82,864.47 L1359.96,866.36 L1365.09,868.29 L1370.23,870.24 L1375.37,872.23 L1380.51,874.25 L1385.65,876.30 L1390.78,878.38 L1395.92,880.49 L1401.06,882.64 L1406.20,884.81 L1411.34,887.02 L1416.47,889.26 L1421.61,891.53 L1426.75,893.83 L1431.89,896.16 L1437.03,898.53 L1442.16,900.93 L1447.30,903.35 L1452.44,905.81 L1457.58,908.30 L1462.72,910.83 L1467.85,913.38 L1472.99,915.96 L1478.13,918.58 L1483.27,921.23 L1488.41,923.91 L1493.54,926.62 L1498.68,929.36 L1503.82,932.14 L1508.96,934.94 L1514.10,937.78" fill="none" stroke="#000080" stroke-width="5.0" stroke-linejoin="round" stroke-dasharray="7.976 24.925" stroke-dashoffset="20.495"/>
<path d="M1514.10,937.78 L1519.18,940.62 L1524.27,943.49 L1529.36,946.39 L1534.45,949.33 L1539.54,952.29 L1544.63,955.29 L1549.72,958.32 L1554.81,961.37 L1559.90,964.46 L1564.99,967.58 L1570.08,970.73 L1575.17,973.91 L1580.26,977.12 L1585.35,980.37 L1590.44,983.64 L1595.53,986.94 L1600.62,990.28 L1605.71,993.65 L1610.80,997.04 L1615.88,1000.47 L1620.97,1003.93 L1626.06,1007.42 L1631.15,1010.94 L1636.24,1014.49 L1641.33,1018.08 L1646.42,1021.69 L1651.51,1025.33 L1656.60,1029.01 L1661.69,1032.71 L1666.78,1036.45 L1671.87,1040.22 L1676.96,1044.02 L1682.05,1047.85 L1687.14,1051.71 L1692.23,1055.60 L1697.32,1059.52 L1702.41,1063.48 L1707.50,1067.46 L1712.59,1071.47 L1717.67,1075.52 L1722.76,1079.60 L1727.85,1083.71" fill="none" stroke="#000080" stroke-width="5.0" stroke-linejoin="round" stroke-dasharray="7.855 24.546" stroke-dashoffset="20.089"/>
<path d="M1727.85,1083.71 L1733.19,1088.04 L1738.52,1092.41 L1743.85,1096.82 L1749.18,1101.25 L1754.51,1105.73 L1759.85,1110.23 L1765.18,1114.77 L1770.51,1119.35 L1775.84,1123.95 L1781.17,1128.59 L1786.50,1133.27 L1791.84,1137.98 L1797.17,1142.72 L1802.50,1147.50" fill="none" stroke="#000080" stroke-width="5.0" stroke-linejoin="round" stroke-dasharray="7.909 24.715" stroke-dashoffset="20.164"/>
<text x="176.32 205.35 220.74 250.37" y="1162.00" transform="translate(0 1162.00) scale(0.92 1.03) translate(0 -1162.00)" style="font-family:'Liberation Sans',Arial,Helvetica,sans-serif;font-size:49px">0.00</text>
<text x="176.32 205.35 220.74 250.36" y="975.75" transform="translate(0 975.75) scale(0.92 1.03) translate(0 -975.75)" style="font-family:'Liberation Sans',Arial,Helvetica,sans-serif;font-size:49px">0.05</text>
<text x="176.32 205.35 220.80 250.37" y="789.50" transform="translate(0 789.50) scale(0.92 1.03) translate(0 -789.50)" style="font-family:'Liberation Sans',Arial,Helvetica,sans-serif;font-size:49px">0.10</text>
<text x="176.32 205.35 220.80 250.36" y="603.25" transform="translate(0 603.25) scale(0.92 1.03) translate(0 -603.25)" style="font-family:'Liberation Sans',Arial,Helvetica,sans-serif;font-size:49px">0.15</text>
<text x="176.32 205.35 220.74 250.37" y="417.00" transform="translate(0 417.00) scale(0.92 1.03) translate(0 -417.00)" style="font-family:'Liberation Sans',Arial,Helvetica,sans-serif;font-size:49px">0.20</text>
<text x="176.32 205.35 220.74 250.36" y="230.75" transform="translate(0 230.75) scale(0.92 1.03) translate(0 -230.75)" style="font-family:'Liberation Sans',Arial,Helvetica,sans-serif;font-size:49px">0.25</text>
<text x="176.32 205.35 220.73 250.37" y="44.50" transform="translate(0 44.50) scale(0.92 1.03) translate(0 -44.50)" style="font-family:'Liberation Sans',Arial,Helvetica,sans-serif;font-size:49px">0.30</text>
<text x="283.95 312.98 328.37" y="1222.80" transform="translate(0 1222.80) scale(0.92 1.03) translate(0 -1222.80)" style="font-family:'Liberation Sans',Arial,Helvetica,sans-serif;font-size:49px">0.0</text>
<text x="611.77 640.80 656.19" y="1222.80" transform="translate(0 1222.80) scale(0.92 1.03) translate(0 -1222.80)" style="font-family:'Liberation Sans',Arial,Helvetica,sans-serif;font-size:49px">0.2</text>
<text x="939.60 968.63 984.00" y="1222.80" transform="translate(0 1222.80) scale(0.92 1.03) translate(0 -1222.80)" style="font-family:'Liberation Sans',Arial,Helvetica,sans-serif;font-size:49px">0.4</text>
<text x="1267.42 1296.45 1311.86" y="1222.80" transform="translate(0 1222.80) scale(0.92 1.03) translate(0 -1222.80)" style="font-family:'Liberation Sans',Arial,Helvetica,sans-serif;font-size:49px">0.6</text>
<text x="1595.25 1624.28 1639.67" y="1222.80" transform="translate(0 1222.80) scale(0.92 1.03) translate(0 -1222.80)" style="font-family:'Liberation Sans',Arial,Helvetica,sans-serif;font-size:49px">0.8</text>
<text x="1923.13 1952.11 1967.50" y="1222.80" transform="translate(0 1222.80) scale(0.92 1.03) translate(0 -1222.80)" style="font-family:'Liberation Sans',Arial,Helvetica,sans-serif;font-size:49px">1.0</text>
<text x="1048.5" y="1281" text-anchor="middle" style="font-family:'Liberation Serif','Times New Roman',Times,serif;font-size:60px">Dimensionless length <tspan font-style="italic">x/L</tspan></text>
<text transform="translate(112.6,947.9) rotate(-90)" x="0" y="0" style="font-family:'Liberation Serif','Times New Roman',Times,serif;font-size:60px">Displacement of aixs <tspan font-style="italic">u</tspan><tspan font-size="37" dy="19">3</tspan><tspan dy="-19" dx="-1.7">(</tspan><tspan font-style="italic">x</tspan>)<tspan dx="-2" stroke="#000" stroke-width="1.3">|</tspan><tspan font-size="36" dy="19" font-style="italic">z</tspan><tspan font-size="36">=0</tspan></text>
<rect x="42" y="1313.5" width="3" height="199" fill="#c8c8c0"/>
<rect x="45" y="1313.5" width="2" height="199" fill="#5a6060"/>
<rect x="44.5" y="1313.6" width="1877.5" height="2.6" fill="#000"/>
<rect x="44.5" y="1510.3" width="1877.5" height="2.7" fill="#000"/>
<rect x="1919.5" y="1313.6" width="2.7" height="199.4" fill="#000"/>
<rect x="65" y="1368.50" width="25.00" height="4.6" fill="#ff0000"/>
<rect x="104.5" y="1368.50" width="8.00" height="4.6" fill="#ff0000"/>
<rect x="126" y="1368.50" width="8.00" height="4.6" fill="#ff0000"/>
<rect x="149.5" y="1368.50" width="24.50" height="4.6" fill="#ff0000"/>
<rect x="188.5" y="1368.50" width="8.50" height="4.6" fill="#ff0000"/>
<rect x="1356.3" y="1369.00" width="138.50" height="4.6" fill="#000000"/>
<rect x="347" y="1460.50" width="27.50" height="4.6" fill="#0000ff"/>
<rect x="402" y="1460.50" width="27.00" height="4.6" fill="#0000ff"/>
<rect x="457" y="1460.50" width="27.00" height="4.6" fill="#0000ff"/>
<rect x="638.8" y="1461.00" width="13.40" height="4.6" fill="#ff00ff"/>
<rect x="664.8" y="1461.00" width="13.40" height="4.6" fill="#ff00ff"/>
<rect x="688.9" y="1461.00" width="13.00" height="4.6" fill="#ff00ff"/>
<rect x="714.9" y="1461.00" width="13.30" height="4.6" fill="#ff00ff"/>
<rect x="738.6" y="1461.00" width="13.40" height="4.6" fill="#ff00ff"/>
<rect x="764.6" y="1461.00" width="11.00" height="4.6" fill="#ff00ff"/>
<rect x="946.5" y="1461.00" width="31.70" height="4.6" fill="#008000"/>
<rect x="993.9" y="1461.00" width="7.60" height="4.6" fill="#008000"/>
<rect x="1015.3" y="1461.00" width="33.60" height="4.6" fill="#008000"/>
<rect x="1061.9" y="1461.00" width="8.40" height="4.6" fill="#008000"/>
<rect x="1446.1" y="1460.90" width="8.00" height="4.8" fill="#000080"/>
<rect x="1479" y="1460.90" width="8.80" height="4.8" fill="#000080"/>
<rect x="1511.9" y="1460.90" width="8.00" height="4.8" fill="#000080"/>
<rect x="1544.5" y="1460.90" width="8.50" height="4.8" fill="#000080"/>
<rect x="1576.5" y="1460.90" width="8.50" height="4.8" fill="#000080"/>
<text x="214.8" y="1390.5" style="font-family:'Liberation Serif','Times New Roman',Times,serif;font-size:60px">Couple stress theory</text>
<text x="803.1" y="1390.5" style="font-family:'Liberation Serif','Times New Roman',Times,serif;font-size:60px">Strain gradient theory:</text>
<text style="font-family:'Liberation Serif','Times New Roman',Times,serif;font-size:60px"><tspan x="1507.0" y="1390.5" font-style="italic">l</tspan><tspan x="1524.3" y="1409.5" font-size="32">0</tspan><tspan x="1540.8" y="1390.5">=</tspan><tspan x="1575.3" y="1390.5" font-style="italic">l</tspan><tspan x="1593.0" y="1409.5" font-size="32">1</tspan><tspan x="1609.1" y="1390.5">=</tspan><tspan x="1642.6" y="1390.5" font-style="italic">l</tspan><tspan x="1660.7" y="1409.5" font-size="32">2</tspan><tspan x="1677.4" y="1390.5">=</tspan><tspan x="1710.8" y="1390.5" font-style="italic">l</tspan><tspan x="1728.9" y="1409.5" font-size="32">3</tspan><tspan x="1745.7" y="1390.5">=</tspan><tspan x="1779.2" y="1390.5" font-style="italic">l</tspan><tspan x="1796.0" y="1409.5" font-size="32">4</tspan><tspan x="1813.5" y="1390.5">≠</tspan><tspan x="1847.3" y="1390.5">0</tspan></text>
<text style="font-family:'Liberation Serif','Times New Roman',Times,serif;font-size:60px"><tspan x="496.3" y="1482.5" font-style="italic">l</tspan><tspan x="514.8" y="1501.5" font-size="32">0</tspan><tspan x="528.5" y="1482.5">=</tspan><tspan x="566.2" y="1482.5">0</tspan></text>
<text style="font-family:'Liberation Serif','Times New Roman',Times,serif;font-size:60px"><tspan x="788.4" y="1482.5" font-style="italic">l</tspan><tspan x="808.2" y="1501.5" font-size="32">1</tspan><tspan x="822.6" y="1482.5">=</tspan><tspan x="857.8" y="1482.5">0</tspan></text>
<text style="font-family:'Liberation Serif','Times New Roman',Times,serif;font-size:60px"><tspan x="1096.4" y="1482.5" font-style="italic">l</tspan><tspan x="1114.2" y="1501.5" font-size="32">2</tspan><tspan x="1129.9" y="1482.5">=</tspan><tspan x="1166.0" y="1482.5">0</tspan><tspan x="1210.4" y="1482.5">or</tspan><tspan x="1274.5" y="1482.5" font-style="italic">l</tspan><tspan x="1292.2" y="1501.5" font-size="32">3</tspan><tspan x="1306.5" y="1482.5">=</tspan><tspan x="1343.4" y="1482.5">0</tspan></text>
<text style="font-family:'Liberation Serif','Times New Roman',Times,serif;font-size:60px"><tspan x="1596.0" y="1482.5" font-style="italic">l</tspan><tspan x="1614.4" y="1501.5" font-size="32">4</tspan><tspan x="1630.1" y="1482.5">=</tspan><tspan x="1664.8" y="1482.5">0</tspan></text>
</svg>
</body></html>
